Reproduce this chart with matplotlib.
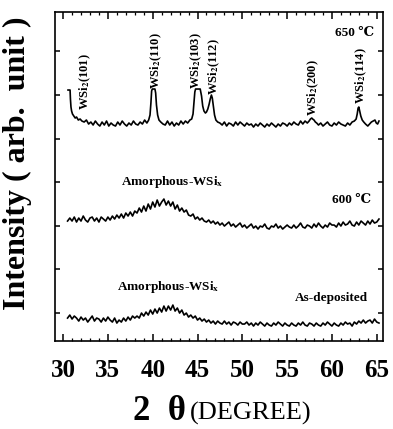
import numpy as np
import matplotlib
matplotlib.use("Agg")
import matplotlib.pyplot as plt
from matplotlib.ticker import MultipleLocator

plt.rcParams['font.family'] = ['Liberation Serif', 'DejaVu Serif']
plt.rcParams['mathtext.fontset'] = 'stix'

# --- data (intensity in arbitrary units, curves stacked) ---
# 650 C: crystalline WSi2 pattern
x_650 = [30.55, 30.78, 30.82, 30.88, 30.95, 31.05, 31.2, 31.35, 31.5, 31.7, 31.9, 32.1,
         32.35, 32.6, 32.85, 33.1, 33.35, 33.6, 33.85, 34.1, 34.35, 34.6, 34.85, 35.1,
         35.35, 35.6, 35.85, 36.1, 36.35, 36.6, 36.85, 37.1, 37.35, 37.6, 37.85, 38.1,
         38.35, 38.6, 38.85, 39.1, 39.35,
         39.55, 39.7, 39.8, 39.88, 39.95, 40.1, 40.25, 40.33, 40.42, 40.55, 40.7, 40.9,
         41.15, 41.4, 41.65, 41.9, 42.15, 42.4, 42.65, 42.9, 43.15, 43.4, 43.65, 43.9, 44.15,
         44.35, 44.5, 44.6, 44.7, 44.78, 45.05, 45.3, 45.45, 45.58, 45.72, 45.88, 46.0,
         46.15, 46.3, 46.42, 46.55, 46.65, 46.78, 46.9, 47.05, 47.25,
         47.5, 47.75, 48.0, 48.25, 48.5, 48.75, 49.0, 49.25, 49.5, 49.75,
         50.0, 50.25, 50.5, 50.75, 51.0, 51.25, 51.5, 51.75, 52.0, 52.25,
         52.5, 52.75, 53.0, 53.25, 53.5, 53.75, 54.0, 54.25, 54.5, 54.75,
         55.0, 55.25, 55.5, 55.75, 56.0, 56.25, 56.5, 56.75, 57.0, 57.25,
         57.45, 57.6, 57.75, 57.85, 58.0, 58.15, 58.3,
         58.5, 58.75, 59.0, 59.25, 59.5, 59.75, 60.0, 60.25, 60.5, 60.75,
         61.0, 61.25, 61.5, 61.75, 62.0, 62.25, 62.5,
         62.7, 62.82, 62.92, 63.0, 63.1, 63.22, 63.38, 63.55, 63.75,
         64.0, 64.2, 64.4, 64.6, 64.8, 64.95, 65.1, 65.25]
y_650 = [249, 249, 240, 232, 228, 225, 223, 221, 222, 219, 220, 218,
         217, 219, 215, 217, 214, 218, 215, 213, 217, 214, 218, 213,
         216, 214, 213, 217, 214, 218, 215, 213, 216, 214, 218, 215,
         214, 217, 215, 219, 216,
         219, 224, 236, 248, 250, 250, 250, 246, 234, 224, 219, 217,
         215, 214, 218, 214, 217, 213, 216, 214, 218, 215, 218, 216, 219,
         220, 225, 236, 247, 250, 250, 250, 243, 233, 228, 226, 227,
         230, 235, 240, 244, 241, 232, 224, 219, 217,
         216, 214, 217, 213, 216, 215, 213, 217, 214, 217,
         215, 213, 216, 214, 215, 212, 215, 213, 216, 214,
         212, 215, 213, 216, 214, 212, 215, 213, 216, 215,
         213, 216, 214, 217, 215, 214, 218, 215, 218, 216,
         218, 220, 221, 220, 219, 217, 216,
         214, 216, 213, 215, 217, 214, 213, 216, 214, 217,
         215, 214, 213, 216, 214, 217, 218,
         220, 225, 231, 232, 228, 223, 219, 217, 215,
         213, 215, 217, 218, 219, 216, 215, 218]

# 600 C and as-deposited: amorphous hump, sampled every 0.25 deg from 30.5
y_600 = [118, 121, 118, 122, 117, 121, 118, 123, 119, 117, 121, 122, 118, 121, 117, 122, 120, 118, 122,
         119, 123, 120, 124, 121, 125, 121, 126, 123, 127, 123, 128,
         126, 131, 127, 133, 128, 135, 130, 137,
         132, 139, 133, 137, 140, 134, 138, 133,
         137, 130, 134, 128, 131, 127, 129, 124,
         123, 125, 120, 122, 119, 121, 118, 117,
         119, 116, 118, 115, 117, 114, 116, 113, 115, 117, 113, 115, 112, 114, 116, 112,
         114, 111, 113, 115, 111, 113, 110, 113, 112, 115, 111, 110, 113, 112, 115, 111, 113, 110, 112, 114,
         112, 111, 114, 111, 113, 116, 112, 111, 114, 113, 111, 115, 112, 116, 113, 111, 114, 112, 116, 114,
         114, 112, 116, 113, 117, 114, 115, 118, 114, 113, 117, 114, 118, 116, 114, 118, 115, 119, 116, 117, 120]
y_asdep = [21, 24, 20, 23, 21, 18, 22, 19, 21, 17, 20, 23, 18, 21, 20, 17, 21, 18, 22,
           19, 17, 21, 16, 19, 17, 21, 18, 22, 19, 23, 21,
           23, 21, 26, 23, 27, 24, 29, 25,
           30, 26, 31, 27, 33, 28, 33, 29,
           34, 28, 31, 26, 29, 24, 26, 22,
           24, 21, 23, 19, 21, 18, 20, 17,
           19, 16, 18, 15, 18, 16, 15, 18, 15, 17, 14, 17, 16, 14, 17, 15,
           15, 17, 14, 16, 13, 16, 14, 17, 15, 13, 16, 14, 13, 16, 14, 17, 15, 13, 16, 14,
           13, 16, 14, 13, 16, 14, 17, 14, 13, 16, 15, 13, 16, 14, 13, 16, 14, 17, 15, 13,
           16, 14, 13, 16, 14, 17, 15, 16, 13, 17, 15, 18, 16, 19, 16, 18, 19, 16, 20, 17, 16]
x_amor = np.linspace(30.5, 30.5 + 0.25 * (len(y_600) - 1), len(y_600))

peak_labels = ['101', '110', '103', '112', '200', '114']
peak_label_x = [32.45, 40.4, 44.9, 46.9, 57.9, 63.3]
peak_label_y = [257, 278, 278, 272, 251, 263]

fig = plt.figure(figsize=(3.93, 4.29), dpi=100)
ax = fig.add_axes([0.14, 0.205, 0.8346, 0.767])

ax.plot(x_650, y_650, color='black', lw=1.2)
ax.plot(x_amor, y_600, color='black', lw=1.2)
ax.plot(x_amor, y_asdep, color='black', lw=1.2)

for lab, px, py in zip(peak_labels, peak_label_x, peak_label_y):
    ax.text(px, py, 'WSi$_\\mathbf{2}$(' + lab + ')', rotation=90, ha='center', va='center',
            fontsize=9, fontweight='bold')

ax.text(62.55, 306, '650 ℃', ha='center', va='center', fontsize=9.5, fontweight='bold')
ax.text(42.15, 157, 'Amorphous-WSi$_\\mathbf{x}$', ha='center', va='center', fontsize=9.5, fontweight='bold')
ax.text(62.2, 139, '600 ℃', ha='center', va='center', fontsize=9.5, fontweight='bold')
ax.text(41.7, 52, 'Amorphous-WSi$_\\mathbf{x}$', ha='center', va='center', fontsize=9.5, fontweight='bold')
ax.text(60.0, 41, 'As-deposited', ha='center', va='center', fontsize=9.5, fontweight='bold')

ax.set_xlim(29.1, 65.7)
ax.set_ylim(-2, 327)
ax.xaxis.set_major_locator(MultipleLocator(5))
ax.xaxis.set_minor_locator(MultipleLocator(1))
ax.set_yticks([26, 70, 113, 157, 200, 244, 288])
ax.set_yticklabels([])
ax.tick_params(axis='x', which='major', direction='in', top=True, length=5, width=1.1,
               labelsize=18, pad=13)
ax.tick_params(axis='x', which='minor', direction='in', top=True, length=2.2, width=0.9)
ax.tick_params(axis='y', direction='in', right=True, length=3.6, width=1.1)
for lbl in ax.get_xticklabels():
    lbl.set_fontweight('bold')
for sp in ax.spines.values():
    sp.set_linewidth(1.2)

ax.set_ylabel('Intensity ( arb.  unit )', fontsize=23, fontweight='bold')
ax.yaxis.set_label_coords(-0.07, 0.54)
fig.text(186 / 393, 0.021, '2\u2002θ', ha='right', va='baseline', fontsize=25, fontweight='bold')
fig.text(190 / 393, 0.021, '(DEGREE)', ha='left', va='baseline', fontsize=19)

fig.savefig('out.png', dpi=100)
